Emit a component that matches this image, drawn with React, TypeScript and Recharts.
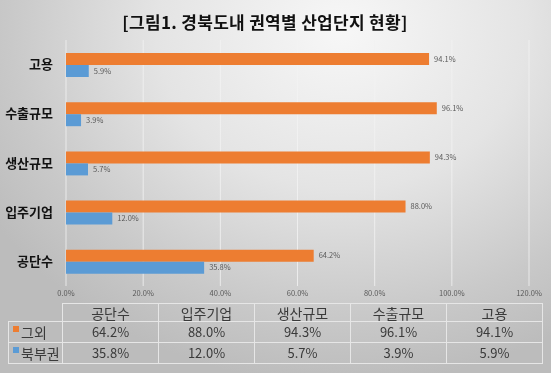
import { BarChart, Bar, XAxis, YAxis, CartesianGrid, LabelList } from 'recharts';

const categories = ['공단수', '입주기업', '생산규모', '수출규모', '고용'];
const otherValues = [64.2, 88.0, 94.3, 96.1, 94.1];
const northValues = [35.8, 12.0, 5.7, 3.9, 5.9];
const xTicks = [0, 20, 40, 60, 80, 100, 120];
const seriesNames = ['그외', '북부권'];
const seriesColors = ['#ED7D31', '#5B9BD5'];

const data = categories.map((c, i) => ({ name: c, other: otherValues[i], north: northValues[i] }));
const pct = (v: number) => `${Number(v).toFixed(1)}%`;

const FONT = '"Noto Sans CJK KR", "Noto Sans", sans-serif';

export default function App() {
  const seriesValues = [otherValues, northValues];
  const cell = { border: '1px solid #e6e6e6', padding: 0, lineHeight: '16px' };
  return (
    <div
      style={{
        position: 'fixed',
        left: 0,
        top: 0,
        width: 551,
        height: 373,
        overflow: 'hidden',
        fontFamily: FONT,
        background: 'radial-gradient(ellipse 75% 95% at 62% 8%, #f7f7f7 0%, #e4e4e4 45%, #c9c9c9 80%, #bcbcbc 100%)',
      }}
    >
      <div
        style={{
          position: 'absolute',
          top: 9,
          left: 0,
          width: 530,
          textAlign: 'center',
          fontSize: 17,
          fontWeight: 700,
          color: '#111',
          letterSpacing: 0.3,
        }}
      >
        [그림1. 경북도내 권역별 산업단지 현황]
      </div>
      <div style={{ position: 'absolute', left: 0, top: 0 }}>
        <BarChart
          width={551}
          height={310}
          data={data}
          layout="vertical"
          margin={{ top: 40, right: 22, bottom: 4, left: 0 }}
          barSize={12}
          barGap={0}
        >
          <CartesianGrid horizontal={false} vertical stroke="#f2f2f2" strokeOpacity={0.8} />
          <XAxis
            type="number"
            domain={[0, 120]}
            ticks={xTicks}
            tickFormatter={pct}
            axisLine={false}
            tickLine={false}
            tickSize={0}
            tickMargin={5}
            height={20}
            tick={{ fontSize: 7.5, fill: '#595959', fontFamily: FONT }}
          />
          <YAxis
            type="category"
            dataKey="name"
            reversed
            width={66}
            axisLine={false}
            tickLine={false}
            tickSize={0}
            tickMargin={13}
            tick={{ fontSize: 13, fontWeight: 700, fill: '#111', fontFamily: FONT }}
          />
          <Bar dataKey="other" fill={seriesColors[0]} isAnimationActive={false}>
            <LabelList dataKey="other" position="right" offset={5} formatter={pct} style={{ fontSize: 7.5, fill: '#595959', fontFamily: FONT }} />
          </Bar>
          <Bar dataKey="north" fill={seriesColors[1]} isAnimationActive={false}>
            <LabelList dataKey="north" position="right" offset={5} formatter={pct} style={{ fontSize: 7.5, fill: '#595959', fontFamily: FONT }} />
          </Bar>
        </BarChart>
      </div>
      <table
        style={{
          position: 'absolute',
          left: 8,
          top: 303,
          borderCollapse: 'collapse',
          tableLayout: 'fixed',
          color: '#3a3a3a',
          fontFamily: FONT,
        }}
      >
        <colgroup>
          <col style={{ width: 54 }} />
          {categories.map((c) => (
            <col key={c} style={{ width: 96 }} />
          ))}
        </colgroup>
        <tbody>
          <tr style={{ height: 18 }}>
            <td style={{ border: 'none' }} />
            {categories.map((c) => (
              <td key={c} style={{ ...cell, textAlign: 'center', fontSize: 14 }}>
                {c}
              </td>
            ))}
          </tr>
          {seriesNames.map((s, si) => (
            <tr key={s} style={{ height: 21 }}>
              <td style={{ ...cell, fontSize: 14, whiteSpace: 'nowrap' }}>
                <span
                  style={{
                    display: 'inline-block',
                    width: 6,
                    height: 6,
                    background: seriesColors[si],
                    marginLeft: 4,
                    marginRight: 2,
                    verticalAlign: 6,
                  }}
                />
                {s}
              </td>
              {seriesValues[si].map((v, i) => (
                <td key={i} style={{ ...cell, textAlign: 'center', fontSize: 13 }}>
                  {pct(v)}
                </td>
              ))}
            </tr>
          ))}
        </tbody>
      </table>
    </div>
  );
}
